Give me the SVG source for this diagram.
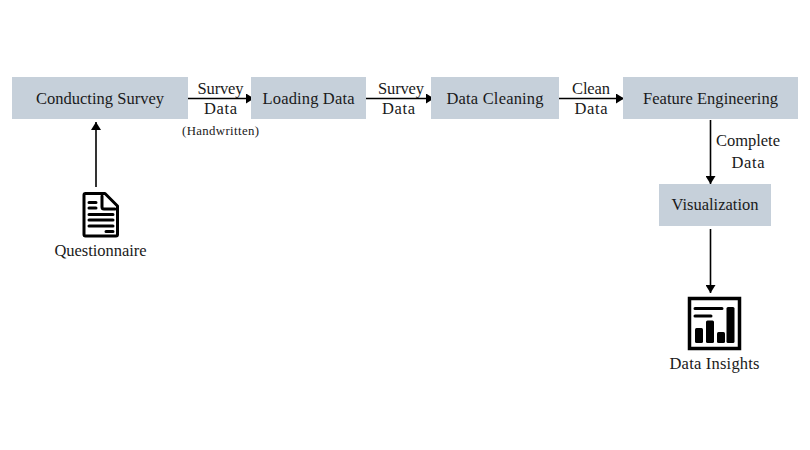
<svg xmlns="http://www.w3.org/2000/svg" width="810" height="450" viewBox="0 0 810 450">
<style>
text{font-family:"Liberation Serif","Times New Roman",serif;font-size:16.500px;fill:#1a1a1a;text-anchor:middle}
.s{font-size:12.800px}
.b{fill:#c6d0da}
.c{fill:none;stroke:#000;stroke-width:1.6}
.i{fill:none;stroke:#000;stroke-width:3;stroke-linecap:round;stroke-linejoin:round}
.k{fill:#000}
</style>
<defs>
<marker id="a" markerUnits="userSpaceOnUse" markerWidth="10" markerHeight="10" refX="8" refY="5" orient="auto"><path d="M0 0L8 5L0 10Z" fill="#000"/></marker>
</defs>
<rect width="810" height="450" fill="#fff"/>
<g id="connectors">
<path class="c" d="M188 98.500H254" marker-end="url(#a)"/>
<path class="c" d="M366 98.500H434" marker-end="url(#a)"/>
<path class="c" d="M559 98.500H624" marker-end="url(#a)"/>
<path class="c" d="M710.500 120V184" marker-end="url(#a)"/>
<path class="c" d="M710.500 229V293" marker-end="url(#a)"/>
<path class="c" d="M96 187V122" marker-end="url(#a)"/>
<text x="220.500" y="93.500" textLength="46">Survey</text>
<text x="220.500" y="113.500" textLength="33">Data</text>
<text class="s" x="220.500" y="135" textLength="77">(Handwritten)</text>
<text x="401" y="93.500" textLength="46">Survey</text>
<text x="398.500" y="113.500" textLength="33">Data</text>
<text x="591" y="93.500" textLength="38">Clean</text>
<text x="591" y="113.500" textLength="33">Data</text>
<text x="748" y="145.500" textLength="64">Complete</text>
<text x="748" y="167.500" textLength="33">Data</text>
</g>
<g id="conducting-survey"><rect class="b" x="12" y="77" width="176" height="42"/><text x="100" y="103.500" textLength="128">Conducting Survey</text></g>
<g id="loading-data"><rect class="b" x="251" y="77" width="115" height="42"/><text x="308.500" y="103.500" textLength="92">Loading Data</text></g>
<g id="data-cleaning"><rect class="b" x="431" y="77" width="128" height="42"/><text x="495" y="103.500" textLength="97">Data Cleaning</text></g>
<g id="feature-engineering"><rect class="b" x="623" y="77" width="175" height="42"/><text x="710.500" y="103.500" textLength="135">Feature Engineering</text></g>
<g id="visualization"><rect class="b" x="659" y="184" width="112" height="42"/><text x="715" y="209.500" textLength="87">Visualization</text></g>
<g id="questionnaire">
<path d="M84 195Q84 193.500 85.500 193.500H105L117.500 206V234.500Q117.500 236 116 236H85.500Q84 236 84 234.500Z" fill="none" stroke="#000" stroke-width="3" stroke-linejoin="round"/>
<path class="i" d="M89 202.500H96M89 208H96M102 196V207Q102 209 104 209H115M89 214.500H113M89 220H113M89 226H113M106 231.500H113"/>
<text x="100.500" y="255.500" textLength="92">Questionnaire</text>
</g>
<g id="data-insights">
<rect x="689.500" y="298.500" width="50" height="50" fill="none" stroke="#000" stroke-width="3.500"/>
<path class="i" d="M695 308.500H722M695 316H711"/>
<rect class="k" x="695" y="328" width="8" height="15" rx="1.500"/>
<rect class="k" x="706" y="320.500" width="8" height="22.500" rx="1.500"/>
<rect class="k" x="717" y="332" width="8" height="11" rx="1.500"/>
<rect class="k" x="726.500" y="307" width="8" height="36" rx="1.500"/>
<text x="714.500" y="368.500" textLength="90">Data Insights</text>
</g>
</svg>
